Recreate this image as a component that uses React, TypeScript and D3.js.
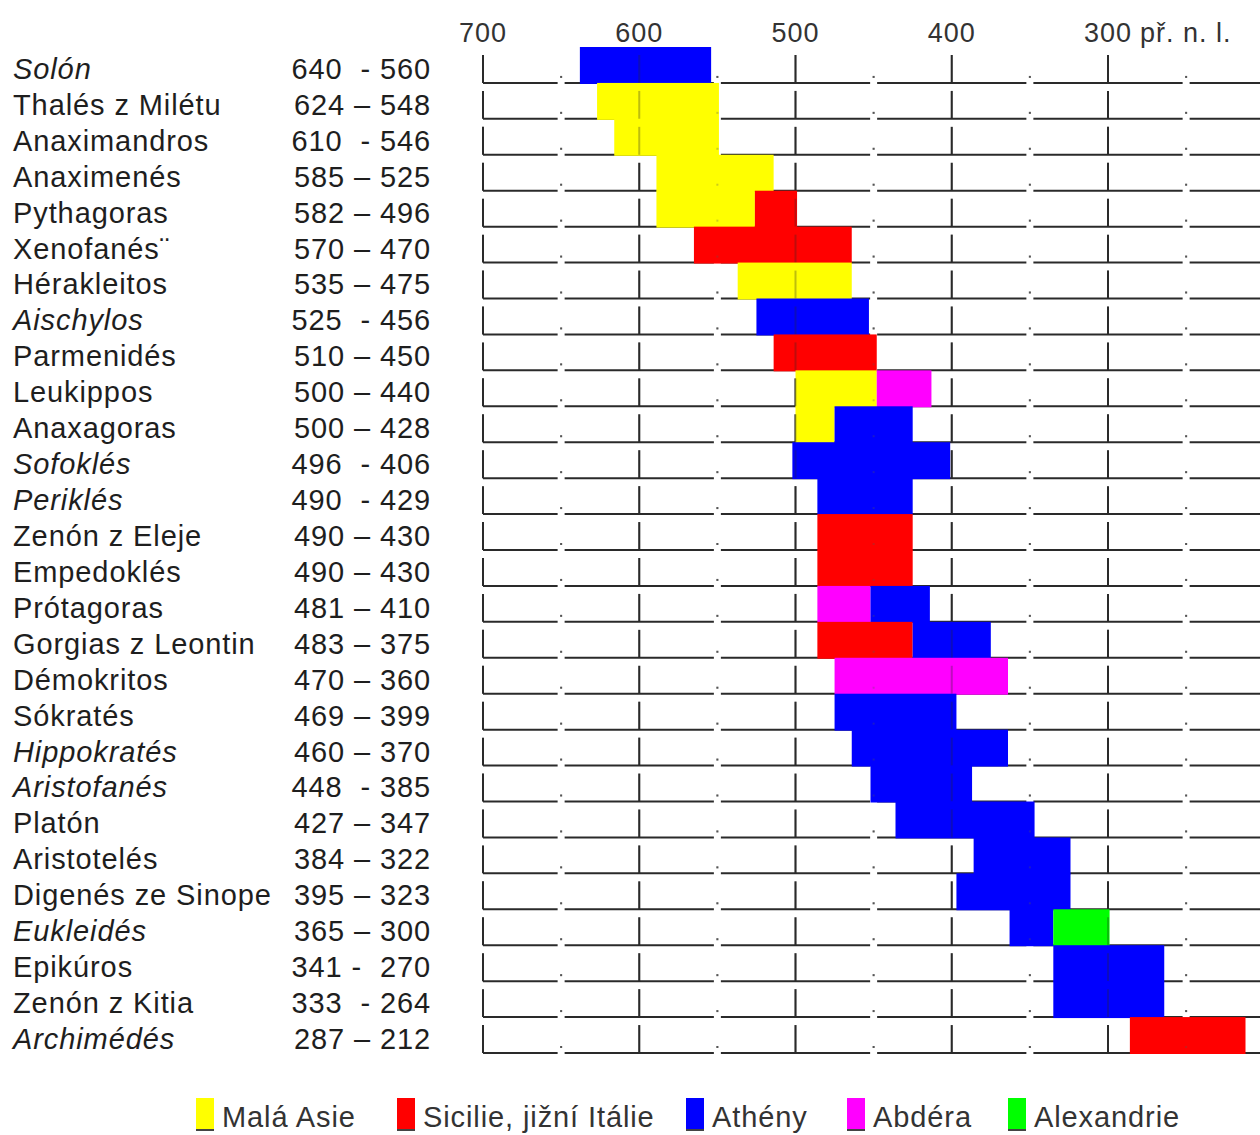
import React, { useEffect, useRef } from "react";
import * as d3 from "d3";

// řádky tabulky: jméno, uváděná data, kurzíva
const names = [
  "Solón", "Thalés z Milétu", "Anaximandros", "Anaximenés", "Pythagoras",
  "Xenofanés¨", "Hérakleitos", "Aischylos", "Parmenidés", "Leukippos",
  "Anaxagoras", "Sofoklés", "Periklés", "Zenón z Eleje", "Empedoklés",
  "Prótagoras", "Gorgias z Leontin", "Démokritos", "Sókratés", "Hippokratés",
  "Aristofanés", "Platón", "Aristotelés", "Digenés ze Sinope", "Eukleidés",
  "Epikúros", "Zenón z Kitia", "Archimédés",
];
const dateLabels = [
  "640  - 560", "624 – 548", "610  - 546", "585 – 525", "582 – 496",
  "570 – 470", "535 – 475", "525  - 456", "510 – 450", "500 – 440",
  "500 – 428", "496  - 406", "490  - 429", "490 – 430", "490 – 430",
  "481 – 410", "483 – 375", "470 – 360", "469 – 399", "460 – 370",
  "448  - 385", "427 – 347", "384 – 322", "395 – 323", "365 – 300",
  "341 -  270", "333  - 264", "287 – 212",
];
const italicNames = [
  "Solón", "Aischylos", "Sofoklés", "Periklés", "Hippokratés",
  "Aristofanés", "Eukleidés", "Archimédés",
];

// hranice úseků sloupců (roky př. n. l.)
const spans: number[][] = [
  [638, 554], [627, 549], [616, 549], [589, 514], [589, 526, 499],
  [565, 464], [537, 464], [525, 453], [514, 448], [500, 448, 413],
  [500, 475, 425], [502, 401], [486, 425], [486, 425], [486, 425],
  [486, 452, 414], [486, 425, 375], [475, 364], [475, 397], [464, 364],
  [452, 387], [436, 347], [386, 324], [397, 324], [363, 335, 299],
  [335, 264], [335, 264], [286, 212],
];
// oblast pro každý úsek
const spanRegions: string[][] = [
  ["Athény"], ["Malá Asie"], ["Malá Asie"], ["Malá Asie"], ["Malá Asie", "Sicilie, jižní Itálie"],
  ["Sicilie, jižní Itálie"], ["Malá Asie"], ["Athény"], ["Sicilie, jižní Itálie"], ["Malá Asie", "Abdéra"],
  ["Malá Asie", "Athény"], ["Athény"], ["Athény"], ["Sicilie, jižní Itálie"], ["Sicilie, jižní Itálie"],
  ["Abdéra", "Athény"], ["Sicilie, jižní Itálie", "Athény"], ["Abdéra"], ["Athény"], ["Athény"],
  ["Athény"], ["Athény"], ["Athény"], ["Athény"], ["Athény", "Alexandrie"],
  ["Athény"], ["Athény"], ["Sicilie, jižní Itálie"],
];

const regions = ["Malá Asie", "Sicilie, jižní Itálie", "Athény", "Abdéra", "Alexandrie"];
const regionColors = ["#ffff00", "#ff0000", "#0000ff", "#ff00ff", "#00ff00"];

const majorYears = [700, 600, 500, 400, 300];
const minorYears = [650, 550, 450, 350, 250];
const axisSuffix = "př. n. l.";

const App: React.FC = () => {
  const svgRef = useRef<SVGSVGElement | null>(null);

  useEffect(() => {
    const width = 1260;
    const height = 1135;
    const font = "'Liberation Sans', Arial, sans-serif";
    const ink = "#1e1e1e";

    const svg = d3.select(svgRef.current);
    svg.selectAll("*").remove();
    svg.attr("viewBox", [0, 0, width, height]).attr("width", width).attr("height", height);

    const x = d3.scaleLinear().domain([700, 300]).range([483, 1108]);
    const y = d3.scaleBand().domain(names).range([47, 1053]);
    const bw = y.bandwidth();
    const color = d3.scaleOrdinal<string, string>().domain(regions).range(regionColors);

    // horní osa
    const axis = svg.append("g").attr("font-family", font).attr("font-size", 27).attr("fill", "#333");
    axis
      .selectAll("text.tick")
      .data(majorYears)
      .join("text")
      .attr("class", "tick")
      .attr("x", (d) => x(d))
      .attr("y", 42)
      .attr("text-anchor", "middle")
      .attr("letter-spacing", 1)
      .text((d) => String(d));
    const lastTick = axis.selectAll<SVGTextElement, number>("text.tick").nodes().pop();
    const lastW = lastTick ? lastTick.getComputedTextLength() : 45;
    axis
      .append("text")
      .attr("x", x(majorYears[majorYears.length - 1]) + lastW / 2 + 8)
      .attr("y", 42)
      .attr("letter-spacing", 1)
      .text(axisSuffix);

    const rows = svg
      .selectAll("g.row")
      .data(names)
      .join("g")
      .attr("class", "row")
      .attr("transform", (d) => `translate(0,${y(d)})`);

    // vodorovné čáry s mezerami u půlstoletí
    const gapPts = [x(700), ...minorYears.flatMap((m) => [x(m) - 3.5, x(m) + 3.5]), width];
    const segs = d3.range(0, gapPts.length, 2).map((i) => [gapPts[i], gapPts[i + 1]]);
    rows
      .selectAll("line.base")
      .data(segs)
      .join("line")
      .attr("class", "base")
      .attr("x1", (d) => d[0])
      .attr("x2", (d) => d[1])
      .attr("y1", bw)
      .attr("y2", bw)
      .attr("stroke", "#2a2a2a")
      .attr("stroke-width", 2);

    const drawTicks = (opacity: number) => {
      rows
        .append("g")
        .selectAll("line")
        .data(majorYears)
        .join("line")
        .attr("x1", (d) => x(d))
        .attr("x2", (d) => x(d))
        .attr("y1", 8)
        .attr("y2", bw)
        .attr("stroke", "#2a2a2a")
        .attr("stroke-width", 2)
        .attr("opacity", opacity);
      rows
        .append("g")
        .selectAll("rect")
        .data(minorYears)
        .join("rect")
        .attr("x", (d) => x(d) - 1)
        .attr("y", bw - 7)
        .attr("width", 2)
        .attr("height", 2)
        .attr("fill", "#555")
        .attr("opacity", opacity);
    };
    drawTicks(1);

    // sloupce
    rows.each(function (_, i) {
      const b = spans[i];
      const parts = d3.range(b.length - 1).map((k) => ({ from: b[k], to: b[k + 1], region: spanRegions[i][k] }));
      d3.select(this)
        .append("g")
        .selectAll("rect")
        .data(parts)
        .join("rect")
        .attr("x", (d) => x(d.from))
        .attr("y", 0)
        .attr("width", (d) => x(d.to) - x(d.from))
        .attr("height", bw + 1)
        .attr("fill", (d) => color(d.region));
    });

    drawTicks(0.3);

    // popisky řádků
    rows
      .append("text")
      .attr("x", 13)
      .attr("y", bw - 4)
      .attr("font-family", font)
      .attr("font-size", 29)
      .attr("letter-spacing", 0.9)
      .attr("fill", ink)
      .attr("font-style", (d) => (italicNames.includes(d) ? "italic" : "normal"))
      .text((d) => d);
    rows
      .append("text")
      .attr("x", 431)
      .attr("y", bw - 4)
      .attr("text-anchor", "end")
      .attr("font-family", font)
      .attr("font-size", 29)
      .attr("letter-spacing", 0.9)
      .attr("fill", ink)
      .style("white-space", "pre")
      .text((_, i) => dateLabels[i]);

    // legenda
    const legendX = [196, 397, 686, 847, 1008];
    const legend = svg
      .append("g")
      .selectAll("g")
      .data(regions)
      .join("g")
      .attr("transform", (_, i) => `translate(${legendX[i]},1098)`);
    legend
      .append("rect")
      .attr("width", 18)
      .attr("height", 33)
      .attr("fill", (d) => color(d));
    legend
      .append("rect")
      .attr("y", 31)
      .attr("width", 18)
      .attr("height", 2)
      .attr("fill", "#444");
    legend
      .append("text")
      .attr("x", 26)
      .attr("y", 29)
      .attr("font-family", font)
      .attr("font-size", 29)
      .attr("letter-spacing", 0.9)
      .attr("fill", "#333")
      .text((d) => d);
  }, []);

  return (
    <svg
      ref={svgRef}
      style={{ position: "absolute", left: 0, top: 0, background: "#fff" }}
    ></svg>
  );
};

export default App;
